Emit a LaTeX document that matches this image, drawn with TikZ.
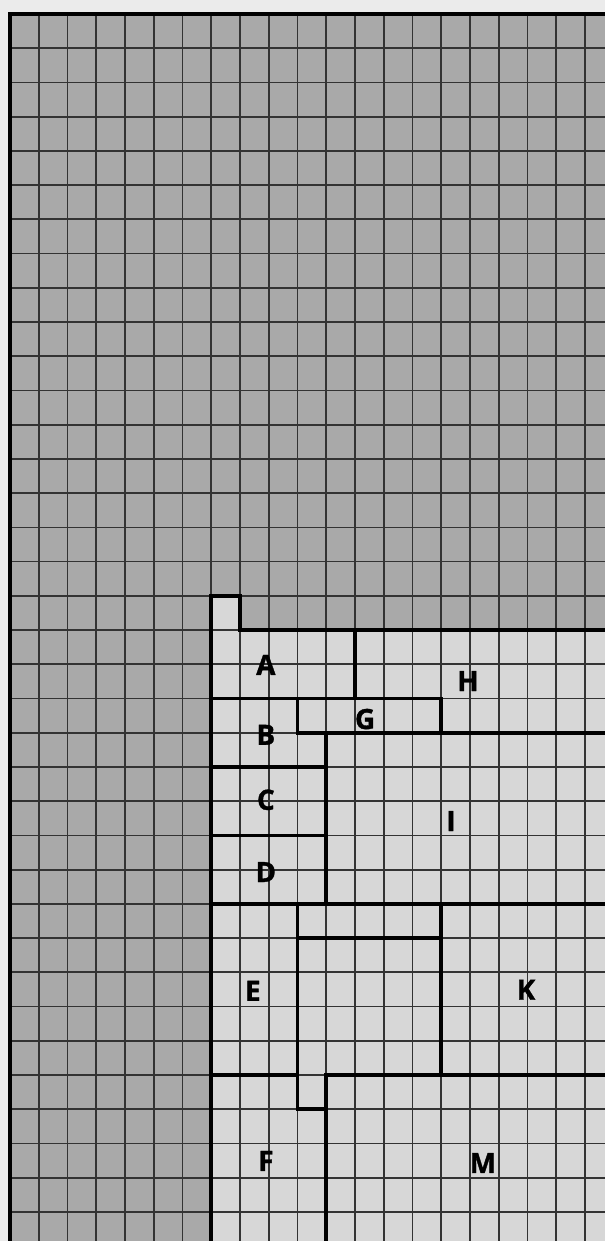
\documentclass[tikz,border=0pt]{standalone}
\usepackage{fontspec}
\setmainfont{Open Sans}[BoldFeatures={FakeBold=1.2}]
\usetikzlibrary{positioning}

\definecolor{paperbg}{HTML}{EBEBEB}
\definecolor{darkcell}{HTML}{A9A9A9}
\definecolor{lightcell}{HTML}{D7D7D7}
\definecolor{gridgray}{HTML}{333333}

\tikzset{
  wall/.style={line width=1.8pt,line cap=rect,black},
  gridline/.style={line width=0.85pt,gridgray},
  lbl/.style={font=\bfseries\fontsize{13.8}{14}\selectfont,inner sep=0pt}
}

\begin{document}
\begin{tikzpicture}[x=0.5cm,y=-0.5953cm]
  \useasboundingbox (-0.348,-0.409) rectangle (20.696,35.85);
  \fill[paperbg] (-0.348,-0.409) rectangle (20.696,35.85);
  % cells
  \fill[darkcell] (0,0) rectangle (20.696,35.85);
  \fill[lightcell] (7,17) -- (8,17) -- (8,18) -- (20.696,18) -- (20.696,35.85) -- (7,35.85) -- cycle;
  % grid
  \begin{scope}
    \clip (0,0) rectangle (20.696,35.85);
    \foreach \c in {1,...,20}
      \draw[gridline] (\c,0) -- (\c,35.85);
    \foreach \r in {1,...,35}
      \draw[gridline] (0,\r) -- (20.696,\r);
  \end{scope}
  % outer edge
  \draw[wall] (0,35.85) -- (0,0) -- (20.696,0);
  % walls
  \draw[wall] (7,35.85) -- (7,17) -- (8,17) -- (8,18) -- (20.696,18);
  \draw[wall] (12,18) -- (12,20);
  \draw[wall] (7,20) -- (15,20) -- (15,21);
  \draw[wall] (10,20) -- (10,21) -- (20.696,21);
  \draw[wall] (11,21) -- (11,26);
  \draw[wall] (7,22) -- (11,22);
  \draw[wall] (7,24) -- (11,24);
  \draw[wall] (7,26) -- (20.696,26);
  \draw[wall] (10,26) -- (10,32) -- (11,32);
  \draw[wall] (10,27) -- (15,27);
  \draw[wall] (15,26) -- (15,31);
  \draw[wall] (7,31) -- (10,31);
  \draw[wall] (11,35.85) -- (11,31) -- (20.696,31);
  % labels
  \node[lbl] (A) at (8.9,19.02) {A};
  \node[lbl] (H) at (15.93,19.49) {H};
  \node[lbl] (G) at (12.35,20.6) {G};
  \node[lbl] (B) at (8.9,21.06) {B};
  \node[lbl] (C) at (8.9,22.96) {C};
  \node[lbl] (I) at (15.34,23.58) {I};
  \node[lbl] (D) at (8.9,25.07) {D};
  \node[lbl] (E) at (8.45,28.54) {E};
  \node[lbl] (K) at (17.95,28.51) {K};
  \node[lbl] (F) at (8.9,33.51) {F};
  \node[lbl] (M) at (16.45,33.57) {M};
\end{tikzpicture}
\end{document}
